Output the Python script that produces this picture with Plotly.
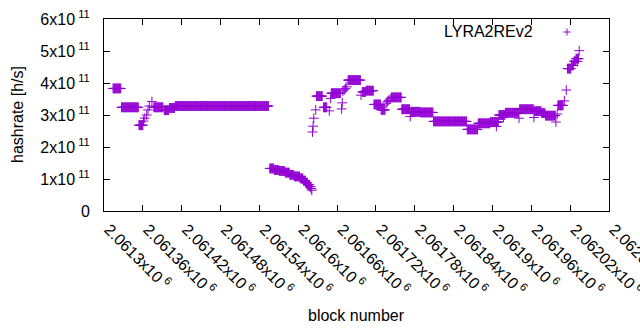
import plotly.graph_objects as go

# ---- data ----
# constant runs of per-block hashrate: first block, last block, value [1e11 h/s]
run_first = [2061314, 2061327, 2061354, 2061377, 2061393, 2061401, 2061410,
             2061556, 2061563, 2061571, 2061580, 2061587, 2061594, 2061603,
             2061608, 2061612, 2061615, 2061618,
             2061628, 2061639, 2061651, 2061677, 2061699, 2061705, 2061717,
             2061728, 2061744, 2061760, 2061774, 2061789, 2061809, 2061861,
             2061878, 2061897, 2061910, 2061920, 2061942, 2061965, 2061976,
             2061982, 2062001, 2062016, 2062022, 2062026, 2062029]
run_last = [2061326, 2061353, 2061360, 2061391, 2061400, 2061409, 2061554,
            2061562, 2061570, 2061579, 2061586, 2061593, 2061602, 2061607,
            2061611, 2061614, 2061617, 2061619,
            2061637, 2061644, 2061665, 2061696, 2061704, 2061716, 2061727,
            2061734, 2061759, 2061772, 2061788, 2061808, 2061860, 2061877,
            2061896, 2061909, 2061919, 2061940, 2061963, 2061975, 2061981,
            2061997, 2062009, 2062021, 2062025, 2062028, 2062033]
run_value = [3.83, 3.24, 2.68, 3.24, 3.15, 3.22, 3.28,
             1.33, 1.28, 1.25, 1.20, 1.13, 1.08, 1.02,
             0.95, 0.88, 0.82, 0.76,
             3.59, 3.24, 3.68, 4.09, 3.72, 3.76, 3.33,
             3.16, 3.55, 3.18, 3.10, 3.08, 2.80, 2.55,
             2.74, 2.78, 3.00, 3.07, 3.18, 3.12, 3.06,
             2.98, 3.30, 4.45, 4.55, 4.68, 4.76]

# isolated blocks
pt_block = [2061361, 2061363, 2061366, 2061368, 2061370, 2061374,
            2061620, 2061621, 2061622, 2061623, 2061624, 2061627,
            2061648, 2061650, 2061667, 2061668, 2061669, 2061671, 2061673,
            2061675, 2061697, 2061736, 2061738, 2061740, 2061742, 2061773,
            2061906, 2061917, 2061941, 2061964, 2061998, 2062000, 2062011,
            2062014, 2062031, 2062034]
pt_value = [2.81, 2.90, 3.00, 3.16, 3.28, 3.42,
            0.70, 0.65, 2.47, 2.65, 2.90, 3.16,
            3.13, 3.52, 3.19, 3.38, 3.75, 3.79, 3.83,
            3.88, 3.62, 3.37, 3.42, 3.46, 3.50, 2.95,
            2.64, 2.92, 2.90, 2.92, 2.78, 3.03, 3.44,
            3.78, 4.67, 5.01]

x_ticks = [2061300, 2061360, 2061420, 2061480, 2061540, 2061600, 2061660,
           2061720, 2061780, 2061840, 2061900, 2061960, 2062020, 2062080]
x_tick_mant = ["2.0613", "2.06136", "2.06142", "2.06148", "2.06154", "2.0616",
               "2.06166", "2.06172", "2.06178", "2.06184", "2.0619", "2.06196",
               "2.06202", "2.06208"]
y_ticks = [0, 1e11, 2e11, 3e11, 4e11, 5e11, 6e11]
y_tick_mant = ["0", "1", "2", "3", "4", "5", "6"]

series_name = "LYRA2REv2"

# ---- build per-block series ----
xs, ys = [], []
for a, b, v in zip(run_first, run_last, run_value):
    for blk in range(a, b + 1):
        xs.append(blk)
        ys.append(v * 1e11)
for blk, v in zip(pt_block, pt_value):
    xs.append(blk)
    ys.append(v * 1e11)
order = sorted(range(len(xs)), key=lambda i: xs[i])
xs = [xs[i] for i in order]
ys = [ys[i] for i in order]

color = "#9400d3"
fig = go.Figure()
fig.add_trace(go.Scatter(
    x=xs, y=ys, mode="markers", name=series_name, showlegend=False,
    marker=dict(symbol="cross-thin", size=7, color=color,
                line=dict(color=color, width=1)),
))

font_family = "Liberation Sans, Arial, sans-serif"
x_text = [m + "x10<sup> 6</sup>" for m in x_tick_mant]
y_text = [m if m == "0" else m + "x10<sup> 11</sup>" for m in y_tick_mant]

L, R, T, B = 104, 609, 19, 211
W, H = R - L, B - T

fig.update_layout(
    width=640, height=330,
    margin=dict(l=L, r=640 - R, t=T, b=330 - B, autoexpand=False),
    paper_bgcolor="white", plot_bgcolor="white",
    font=dict(family=font_family, size=16, color="black"),
    xaxis=dict(
        range=[x_ticks[0], x_ticks[-1]], tickvals=x_ticks, ticktext=x_text,
        tickangle=45, ticks="inside", ticklen=6, tickcolor="black",
        showline=True, linecolor="black", linewidth=1, mirror="allticks",
        showgrid=False, zeroline=False, automargin=False,
        ticklabeloverflow="allow", ticklabelshift=5, ticklabelstandoff=2,
    ),
    yaxis=dict(
        range=[0, 6e11], tickvals=y_ticks, ticktext=y_text,
        ticks="inside", ticklen=6, tickcolor="black",
        showline=True, linecolor="black", linewidth=1, mirror="allticks",
        showgrid=False, zeroline=False, ticklabelstandoff=10, automargin=False,
    ),
    annotations=[
        dict(text=series_name, xref="paper", yref="paper", x=(535 - L) / W,
             y=(B - 31) / H, xanchor="right", yanchor="middle",
             showarrow=False, font=dict(size=16)),
        dict(text="block number", xref="paper", yref="paper", x=0.5,
             y=(B - 315) / H, xanchor="center", yanchor="middle",
             showarrow=False, font=dict(size=16)),
        dict(text="hashrate [h/s]", xref="paper", yref="paper",
             x=(17 - L) / W, y=0.5, xanchor="center", yanchor="middle",
             textangle=-90, showarrow=False, font=dict(size=16)),
    ],
    shapes=[
        dict(type="line", xref="paper", yref="paper",
             x0=(567 - L - 3.5) / W, x1=(567 - L + 3.5) / W,
             y0=(B - 32) / H, y1=(B - 32) / H,
             line=dict(color=color, width=1)),
        dict(type="line", xref="paper", yref="paper",
             x0=(567 - L) / W, x1=(567 - L) / W,
             y0=(B - 32 - 3.5) / H, y1=(B - 32 + 3.5) / H,
             line=dict(color=color, width=1)),
    ],
)

fig.write_html("out.html",
               config={"displayModeBar": False},
               post_script="document.body.style.margin='0';"
                           "document.body.style.overflow='hidden';")
